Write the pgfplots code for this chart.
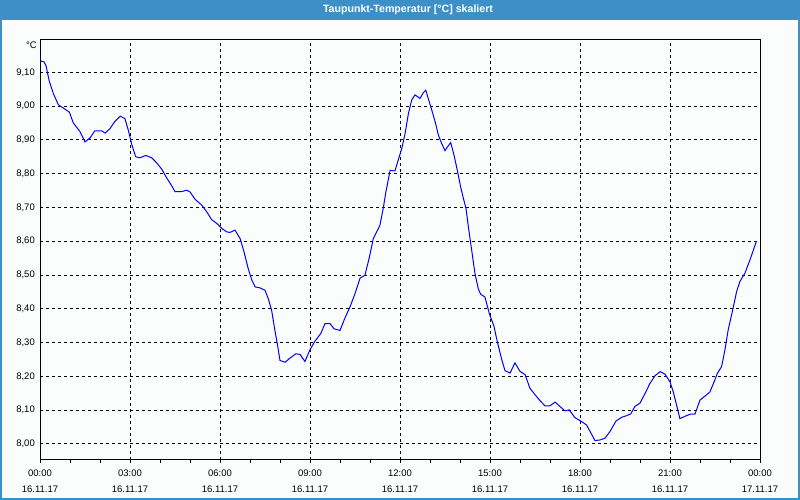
\documentclass[border=0pt]{standalone}
\usepackage{pgfplots}
\pgfplotsset{compat=1.18}
\usepackage{fontspec}
\setmainfont{Liberation Sans}
\definecolor{barblue}{RGB}{61,143,199}
\definecolor{bgc}{RGB}{251,253,252}
\begin{document}
\begin{tikzpicture}
\fill[barblue] (0pt,0pt) rectangle (800pt,500pt);
\fill[bgc] (2pt,2pt) rectangle (797.5pt,479.5pt);
\node[text=white, font=\bfseries\fontsize{10.6}{12}\selectfont] at (408pt,490pt) {Taupunkt-Temperatur [°C] skaliert};
\node[font=\fontsize{9.5}{11}\selectfont, inner sep=0pt] at (31.5pt,455pt) {°C};
\begin{axis}[at={(40pt,40pt)}, anchor=south west, scale only axis,
 width=720pt, height=420pt,
 xmin=0, xmax=24, ymin=7.9526, ymax=9.1956,
 axis line style={black, line width=1pt},
 tick align=outside, xtick pos=left, ytick pos=left,
 major tick length=3pt, minor tick length=3pt,
 xtick={0,3,6,9,12,15,18,21,24}, minor x tick num=2,
 x tick style={black, line width=1pt},
 y tick style={draw=none},
 xticklabels={{00:00\\16.11.17},{03:00\\16.11.17},{06:00\\16.11.17},{09:00\\16.11.17},{12:00\\16.11.17},{15:00\\16.11.17},{18:00\\16.11.17},{21:00\\16.11.17},{00:00\\17.11.17}},
 xticklabel style={align=center, font=\fontsize{9.5}{15.5}\selectfont, inner sep=0pt, anchor=north, yshift=-7pt},
 ytick={8,8.1,8.2,8.3,8.4,8.5,8.6,8.7,8.8,8.9,9.0,9.1},
 yticklabels={{8,00},{8,10},{8,20},{8,30},{8,40},{8,50},{8,60},{8,70},{8,80},{8,90},{9,00},{9,10}},
 yticklabel style={font=\fontsize{9.5}{11}\selectfont, inner sep=0pt, anchor=east, xshift=-2pt},
 xmajorgrids, ymajorgrids,
 major grid style={black, line width=1pt, dash pattern=on 3pt off 3pt},
]
\addplot[blue, line width=1pt, mark=none] coordinates {
(0,9.134) (0.13,9.131) (0.2,9.12) (0.3,9.077) (0.44,9.038) (0.61,9.004) (0.78,8.994) (0.98,8.982)
(1.11,8.95) (1.33,8.925) (1.5,8.894) (1.67,8.906) (1.83,8.927) (2.06,8.927) (2.17,8.92) (2.33,8.933)
(2.5,8.955) (2.67,8.970) (2.83,8.963) (2.94,8.93) (3.06,8.886) (3.19,8.85) (3.33,8.847) (3.53,8.854)
(3.72,8.847) (3.89,8.832) (4.06,8.813) (4.22,8.788) (4.39,8.764) (4.5,8.747) (4.72,8.747) (4.89,8.751)
(5.0,8.746) (5.17,8.724) (5.39,8.707) (5.56,8.687) (5.72,8.664) (5.89,8.653) (6.06,8.638) (6.22,8.628)
(6.33,8.626) (6.5,8.633) (6.67,8.608) (6.8,8.569) (6.94,8.519) (7.06,8.485) (7.17,8.465) (7.33,8.462)
(7.5,8.455) (7.61,8.43) (7.72,8.396) (7.83,8.336) (7.91,8.297) (8.0,8.247) (8.17,8.242) (8.33,8.254)
(8.53,8.267) (8.67,8.265) (8.83,8.244) (9.0,8.279) (9.17,8.305) (9.36,8.327) (9.5,8.356) (9.67,8.356)
(9.8,8.341) (10.0,8.336) (10.17,8.374) (10.33,8.405) (10.5,8.445) (10.67,8.491) (10.83,8.499) (10.98,8.553)
(11.11,8.608) (11.22,8.627) (11.33,8.647) (11.44,8.697) (11.53,8.746) (11.67,8.810) (11.83,8.808) (11.94,8.840)
(12.06,8.875) (12.17,8.919) (12.28,8.978) (12.39,9.018) (12.5,9.033) (12.67,9.023) (12.78,9.040) (12.86,9.047)
(12.94,9.023) (13.06,8.988) (13.17,8.954) (13.28,8.914) (13.39,8.889) (13.5,8.868) (13.58,8.879) (13.69,8.892)
(13.8,8.855) (13.91,8.810) (14.02,8.761) (14.13,8.721) (14.2,8.697) (14.28,8.642) (14.39,8.573) (14.5,8.504)
(14.61,8.459) (14.69,8.443) (14.83,8.435) (14.98,8.385) (15.13,8.349) (15.24,8.304) (15.39,8.250) (15.5,8.217)
(15.67,8.210) (15.83,8.240) (16.0,8.215) (16.17,8.205) (16.33,8.165) (16.5,8.146) (16.67,8.128) (16.83,8.113)
(17.0,8.113) (17.17,8.124) (17.33,8.111) (17.5,8.098) (17.64,8.101) (17.83,8.078) (18.06,8.066) (18.22,8.056)
(18.36,8.033) (18.5,8.010) (18.67,8.012) (18.83,8.017) (19.0,8.037) (19.2,8.068) (19.39,8.079) (19.56,8.084)
(19.69,8.089) (19.83,8.111) (20.0,8.121) (20.17,8.150) (20.33,8.179) (20.5,8.202) (20.67,8.214) (20.83,8.207)
(21.0,8.184) (21.11,8.154) (21.22,8.115) (21.33,8.075) (21.5,8.082) (21.67,8.088) (21.83,8.088) (22.0,8.130)
(22.17,8.142) (22.33,8.154) (22.47,8.184) (22.58,8.209) (22.72,8.229) (22.83,8.278) (22.94,8.338) (23.09,8.397)
(23.22,8.451) (23.33,8.481) (23.5,8.506) (23.67,8.546) (23.88,8.600)
};
\end{axis}
\end{tikzpicture}
\end{document}
